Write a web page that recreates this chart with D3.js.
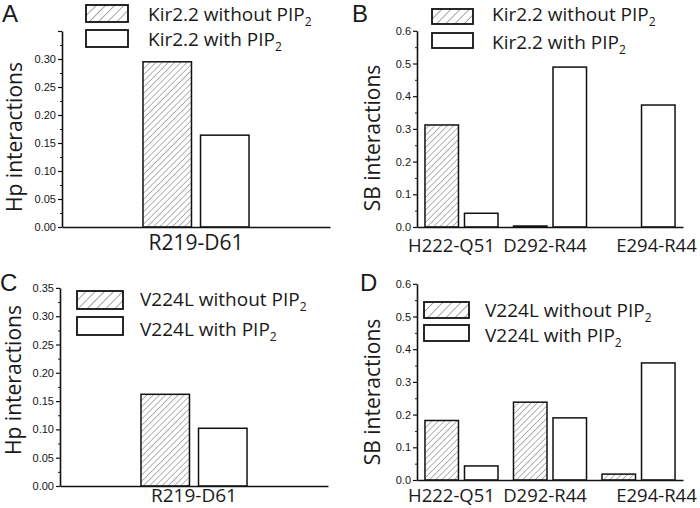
<!DOCTYPE html>
<html><head><meta charset="utf-8">
<script src="https://cdn.jsdelivr.net/npm/d3@7"></script>
<style>
body{margin:0;background:#fff}
svg text{font-family:"Open Sans",sans-serif;fill:#1a1a1a}
.tick text{font-family:"Liberation Sans",Arial,sans-serif;font-size:11px;fill:#151515}
</style>
</head><body>
<svg id="chart" width="700" height="508"></svg>
<script>
// ---- data ----
const hpCategories = ["R219-D61"];
const sbCategories = ["H222-Q51", "D292-R44", "E294-R44"];
const kirHpWithout = [0.295];
const kirHpWith = [0.164];
const kirSbWithout = [0.312, 0.003, 0.0];
const kirSbWith = [0.042, 0.489, 0.373];
const v224HpWithout = [0.162];
const v224HpWith = [0.102];
const v224SbWithout = [0.182, 0.238, 0.018];
const v224SbWith = [0.043, 0.190, 0.358];
const hpTicks = [0, 0.05, 0.10, 0.15, 0.20, 0.25, 0.30, 0.35];
const sbTicks = [0, 0.1, 0.2, 0.3, 0.4, 0.5, 0.6];
const kirNames = ["Kir2.2 without PIP", "Kir2.2 with PIP"];
const v224Names = ["V224L without PIP", "V224L with PIP"];

// ---- layout ----
const svg = d3.select("#chart");
const defs = svg.append("defs");
function hatch(id, gap, color, w) {
  const p = defs.append("pattern").attr("id", id).attr("patternUnits", "userSpaceOnUse")
    .attr("width", gap).attr("height", gap).attr("patternTransform", "rotate(45)");
  p.append("rect").attr("width", gap).attr("height", gap).attr("fill", "#fff");
  p.append("line").attr("x1", 0).attr("y1", 0).attr("x2", 0).attr("y2", gap)
    .attr("stroke", color).attr("stroke-width", w);
}
hatch("hatchBar", 4.4, "#8a8a8a", 1.3);
hatch("hatchLeg", 6.5, "#6a6a6a", 1.2);

const panels = [
  {letter:"A", lx:2, ly:22, x0:62, x1:330, yb:227, max:0.35, perUnit:560, ticks:hpTicks, fmt:".2f", hideTop:true,
   cats:hpCategories, a:kirHpWithout, b:kirHpWith, pi:0.433, po:0.433, sub:0.157,
   title:"Hp interactions", tx:22, ty:137, xls:21, xly:250, dx:[0],
   leg:{bx:86, bw:42, by1:5, by2:30, bh:17, tx:148, t1:20.5, t2:46}, names:kirNames},
  {letter:"B", lx:352, ly:22, x0:417, x1:683, yb:227, max:0.6, perUnit:327, ticks:sbTicks, fmt:".1f", hideTop:false,
   cats:sbCategories, a:kirSbWithout, b:kirSbWith, pi:0.175, po:0.09, sub:0.152,
   title:"SB interactions", tx:380, ty:138, xls:18.5, xly:252, dx:[-10, -5, 18],
   leg:{bx:432, bw:41, by1:9, by2:33, bh:15, tx:492, t1:21, t2:49}, names:kirNames},
  {letter:"C", lx:0, ly:291, x0:60, x1:328, yb:486, max:0.35, perUnit:566, ticks:hpTicks, fmt:".2f", hideTop:false,
   cats:hpCategories, a:v224HpWithout, b:v224HpWith, pi:0.433, po:0.433, sub:0.157,
   title:"Hp interactions", tx:21, ty:380, xls:19, xly:502.3, dx:[0],
   leg:{bx:77, bw:46, by1:291, by2:317, bh:18, tx:140, t1:306, t2:336}, names:v224Names},
  {letter:"D", lx:360, ly:291, x0:417, x1:683, yb:480, max:0.6, perUnit:327, ticks:sbTicks, fmt:".1f", hideTop:false,
   cats:sbCategories, a:v224SbWithout, b:v224SbWith, pi:0.175, po:0.09, sub:0.152,
   title:"SB interactions", tx:380, ty:392, xls:18.5, xly:502, dx:[-10, -5, 18],
   leg:{bx:424, bw:45, by1:302, by2:325, bh:16, tx:485, t1:317, t2:342}, names:v224Names}
];

panels.forEach(P => {
  const g = svg.append("g");
  const y = d3.scaleLinear().domain([0, P.max]).range([P.yb, P.yb - P.max * P.perUnit]);
  const x = d3.scaleBand().domain(P.cats).range([P.x0, P.x1]).paddingInner(P.pi).paddingOuter(P.po);
  const xs = d3.scaleBand().domain([0, 1]).range([0, x.bandwidth()]).paddingInner(P.sub);

  // bars
  P.cats.forEach((c, i) => {
    [[P.a[i], "url(#hatchBar)", 0], [P.b[i], "#fff", 1]].forEach(([v, fill, k]) => {
      if (v <= 0) return;
      g.append("rect").attr("x", x(c) + xs(k)).attr("width", xs.bandwidth())
        .attr("y", y(v)).attr("height", y(0) - y(v))
        .attr("fill", fill).attr("stroke", "#111").attr("stroke-width", 1.5);
    });
  });

  // minor ticks
  const minor = [];
  for (let i = 0; i < P.ticks.length - 1; i++) minor.push((P.ticks[i] + P.ticks[i + 1]) / 2);
  const gm = g.append("g").attr("transform", `translate(${P.x0},0)`)
    .call(d3.axisLeft(y).tickValues(minor).tickSize(2).tickFormat(""));
  gm.select(".domain").remove();
  gm.selectAll("line").attr("stroke", "#222").attr("stroke-width", 1);

  // major axis
  const f = d3.format(P.fmt);
  const ga = g.append("g").attr("transform", `translate(${P.x0},0)`)
    .call(d3.axisLeft(y).tickValues(P.ticks).tickSize(4).tickPadding(2).tickSizeOuter(0)
      .tickFormat(d => (P.hideTop && d === P.max) ? "" : f(d)));
  ga.select(".domain").attr("stroke", "#111").attr("stroke-width", 1.6);
  ga.selectAll(".tick line").attr("stroke", "#111").attr("stroke-width", 1.2);

  // x baseline
  const gx = g.append("g").attr("transform", `translate(0,${P.yb})`)
    .call(d3.axisBottom(x).tickSize(0).tickFormat(""));
  gx.select(".domain").attr("stroke", "#111").attr("stroke-width", 1.6);

  // x labels
  P.cats.forEach((c, i) => {
    g.append("text").attr("x", x(c) + x.bandwidth() / 2 + P.dx[i]).attr("y", P.xly)
      .attr("text-anchor", "middle").attr("font-size", P.xls).text(c);
  });

  // y title
  g.append("text").attr("transform", `translate(${P.tx},${P.ty}) rotate(-90)`)
    .attr("text-anchor", "middle").attr("font-size", 21).text(P.title);

  // panel letter
  g.append("text").attr("x", P.lx).attr("y", P.ly).attr("font-size", 24)
    .style("font-family", "'Liberation Sans', Arial, sans-serif").text(P.letter);

  // legend
  const L = P.leg;
  g.append("rect").attr("x", L.bx).attr("y", L.by1).attr("width", L.bw).attr("height", L.bh)
    .attr("fill", "url(#hatchLeg)").attr("stroke", "#111").attr("stroke-width", 1.8);
  g.append("rect").attr("x", L.bx).attr("y", L.by2).attr("width", L.bw).attr("height", L.bh)
    .attr("fill", "#fff").attr("stroke", "#111").attr("stroke-width", 1.8);
  [[P.names[0], L.t1], [P.names[1], L.t2]].forEach(([n, ty]) => {
    const t = g.append("text").attr("x", L.tx).attr("y", ty).attr("font-size", 19);
    t.append("tspan").text(n);
    t.append("tspan").attr("font-size", 12).attr("dy", 5).text("2");
  });
});
</script>
</body></html>
